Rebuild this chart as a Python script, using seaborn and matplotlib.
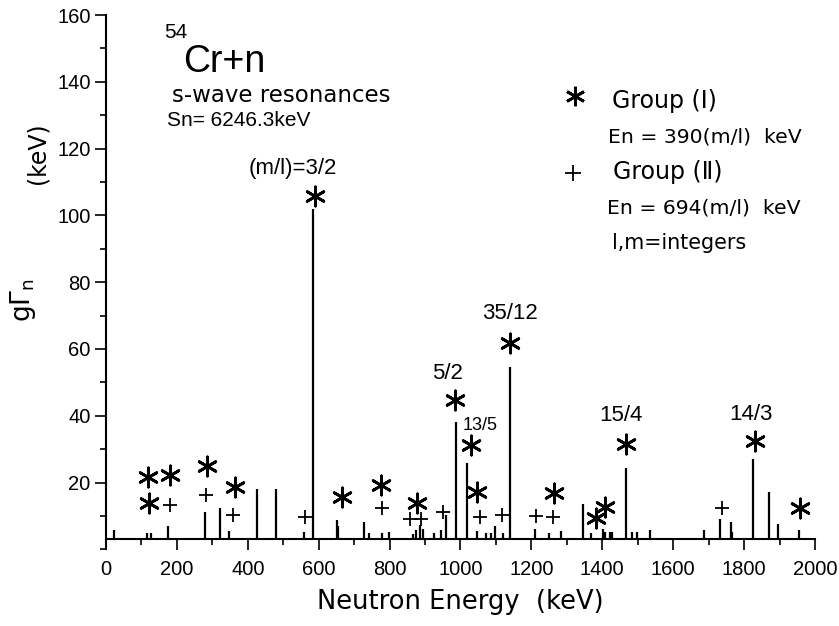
import numpy as np
import pandas as pd
import matplotlib
matplotlib.use("Agg")
import matplotlib.pyplot as plt
import seaborn as sns
from matplotlib.ticker import MultipleLocator

# resonance energies (keV) and widths gGn (keV)
bar_e = [22, 117, 128, 174, 279, 323, 347, 427, 480, 558, 585, 651, 655, 728,
         741, 779, 797, 865, 874, 887, 893, 925, 944, 960, 986, 1018, 1046,
         1072, 1087, 1097, 1120, 1141, 1211, 1250, 1283, 1345, 1368, 1403,
         1408, 1422, 1427, 1466, 1485, 1497, 1534, 1688, 1733, 1762, 1767,
         1826, 1870, 1897, 1954]
bar_g = [5.8, 5.0, 5.0, 7.0, 11.3, 12.4, 5.6, 18.2, 18.0, 5.3, 102.0, 8.8,
         7.1, 8.3, 5.0, 5.0, 5.2, 4.7, 5.8, 7.3, 6.0, 5.0, 5.8, 10.3, 38.1,
         25.8, 5.5, 4.8, 4.8, 7.1, 4.8, 54.6, 6.1, 4.8, 5.5, 13.6, 4.8, 6.1,
         5.3, 5.3, 5.3, 24.5, 5.3, 5.3, 5.8, 5.8, 9.1, 8.1, 5.1, 27.1, 17.1,
         7.5, 5.7]

# group (I) markers : En = 390(m/l)
g1_e = [119, 182, 121, 284, 364, 590, 666, 775, 878, 985, 1029, 1047, 1141,
        1263, 1381, 1407, 1468, 1831, 1959]
g1_y = [21.8, 22.3, 13.8, 24.8, 18.8, 105.8, 15.6, 19.3, 14.0, 44.8, 31.1,
        17.3, 61.8, 16.8, 9.3, 12.6, 31.6, 32.3, 12.5]

# group (II) markers : En = 694(m/l)
g2_e = [182, 282, 357, 561, 780, 857, 890, 950, 1055, 1116, 1213, 1262, 1737]
g2_y = [13.3, 16.3, 10.3, 9.8, 12.3, 9.1, 9.1, 11.3, 9.8, 10.3, 10.0, 9.8, 12.5]

# m/l labels
frac_text = ["(m/l)=3/2", "5/2", "13/5", "35/12", "15/4", "14/3"]
frac_e = [526, 963, 1055, 1140, 1453, 1819]
frac_y = [114, 52.7, 37.1, 70.7, 40.1, 40.3]
frac_size = [16, 16, 13, 16, 16, 16]

x_ticks = list(range(0, 2001, 200))
y_ticks = list(range(20, 161, 20))

df_bar = pd.DataFrame({"E": bar_e, "g": bar_g})
df_g1 = pd.DataFrame({"E": g1_e, "g": g1_y})
df_g2 = pd.DataFrame({"E": g2_e, "g": g2_y})

sns.set_style("ticks")
plt.rcParams["font.family"] = ["Liberation Sans", "DejaVu Sans"]
plt.rcParams["axes.linewidth"] = 1.5
for k in ["text.color", "axes.labelcolor", "axes.edgecolor", "xtick.color", "ytick.color"]:
    plt.rcParams[k] = "black"

fig = plt.figure(figsize=(8.39, 6.26), dpi=100)
ax = fig.add_axes([0.1263, 0.1225, 0.8451, 0.8535])

base = 3
ax.vlines(df_bar["E"], base, df_bar["g"], color="black", linewidth=1.6)

star = (6, 2, 0)
sns.scatterplot(data=df_g1, x="E", y="g", marker=star, s=190, color="black",
                linewidth=2.0, ax=ax, legend=False)
sns.scatterplot(data=df_g2, x="E", y="g", marker="+", s=110, color="black",
                linewidth=1.3, ax=ax, legend=False)

for t, xe, yv, fs in zip(frac_text, frac_e, frac_y, frac_size):
    ax.text(xe, yv, t, ha="center", va="center", fontsize=fs)

ax.set_xlim(0, 2000)
ax.set_ylim(0, 160)
ax.spines["top"].set_visible(False)
ax.spines["right"].set_visible(False)
ax.spines["bottom"].set_position(("data", base))
ax.spines["bottom"].set_bounds(0, 2000)

ax.set_xticks(x_ticks)
ax.set_yticks(y_ticks)
ax.xaxis.set_minor_locator(MultipleLocator(100))
ax.yaxis.set_minor_locator(MultipleLocator(10))
ax.tick_params(which="major", length=8, width=1.2, labelsize=14.5, pad=7)
ax.tick_params(which="minor", length=4.3, width=1.2)
ax.tick_params(axis="y", which="major", pad=3)

ax.set_xlabel("Neutron Energy  (keV)", fontsize=18.5, family="DejaVu Sans", labelpad=7)
ax.set_ylabel("g\u0393$_\\mathrm{n}$", fontsize=19, family="DejaVu Sans")
ax.yaxis.set_label_coords(-0.096, 0.467)
ax.text(-0.096, 0.742, "(keV)", transform=ax.transAxes, rotation=90,
        ha="center", va="center", fontsize=17, family="DejaVu Sans")

# title block
ax.text(197, 154.9, "54", ha="center", va="center", fontsize=15)
ax.text(217, 142.9, "Cr+n", ha="left", va="baseline", fontsize=27)
ax.text(185, 133.9, "s-wave resonances", ha="left", va="baseline",
        fontsize=16.5, family="DejaVu Sans")
ax.text(171, 126.7, "Sn= 6246.3keV", ha="left", va="baseline", fontsize=15)

# key
ax.plot([1323], [135.8], marker=star, ms=14, mew=2.0, color="black", ls="none")
ax.plot([1317], [112.8], marker="+", ms=11, mew=1.3, color="black", ls="none")
key_font = ["DejaVu Sans", "Noto Sans CJK JP"]
ax.text(1426, 134.2, "Group (\u2160)", ha="left", va="center", fontsize=17, family=key_font)
ax.text(1416, 123.5, "En = 390(m/l)  keV", ha="left", va="center", fontsize=14.7, family=key_font)
ax.text(1430, 112.9, "Group (\u2161)", ha="left", va="center", fontsize=17, family=key_font)
ax.text(1413, 102.2, "En = 694(m/l)  keV", ha="left", va="center", fontsize=14.7, family=key_font)
ax.text(1427, 91.7, "l,m=integers", ha="left", va="center", fontsize=14.9, family=key_font)

fig.savefig("out.png", dpi=100)
